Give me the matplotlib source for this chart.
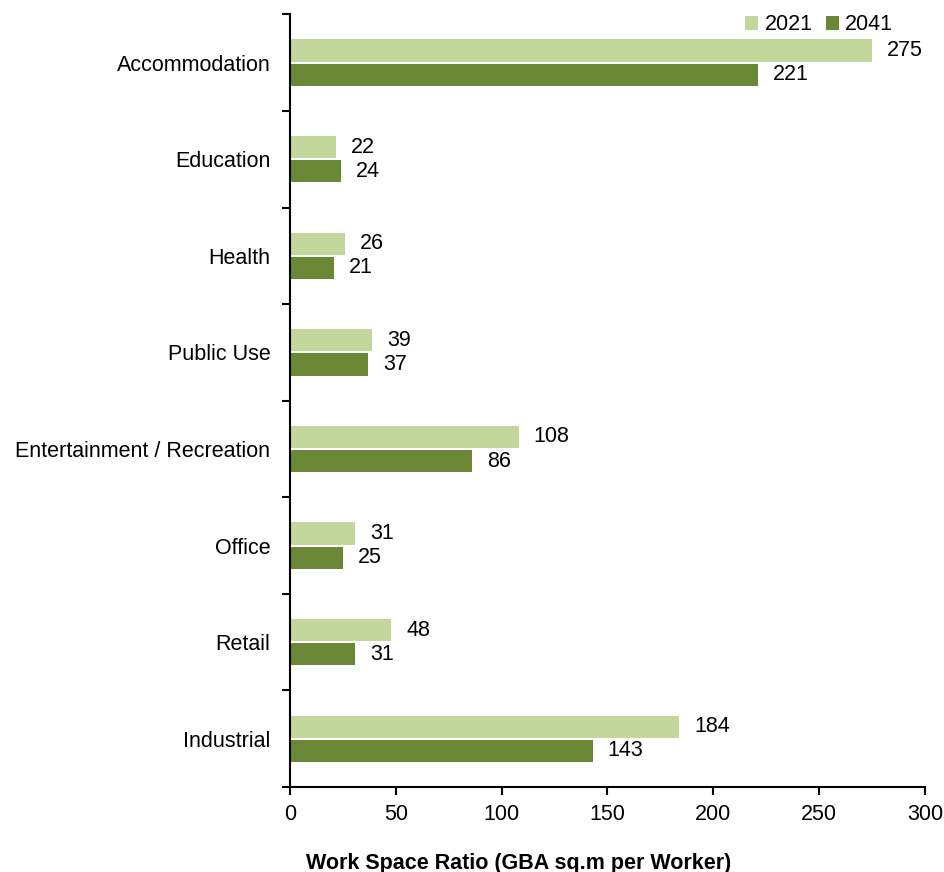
import numpy as np
import matplotlib.pyplot as plt

plt.rcParams['font.family'] = ['Liberation Sans', 'DejaVu Sans']

# Work space ratio by land use
categories = ["Accommodation", "Education", "Health", "Public Use",
              "Entertainment / Recreation", "Office", "Retail", "Industrial"]
ratio_2021 = [275, 22, 26, 39, 108, 31, 48, 184]
ratio_2041 = [221, 24, 21, 37, 86, 25, 31, 143]

LIGHT = "#C3D69B"
DARK = "#698734"
FS = 15.5

fig = plt.figure(figsize=(9.44, 8.72), dpi=100)
ax = fig.add_axes([0.307, 0.0975, 0.673, 0.886])

n = len(categories)
y = np.arange(n)
h = 0.23
gap = 0.02

b1 = ax.barh(y - (h + gap) / 2, ratio_2021, height=h, color=LIGHT, label="2021")
b2 = ax.barh(y + (h + gap) / 2, ratio_2041, height=h, color=DARK, label="2041")

for bars, vals in ((b1, ratio_2021), (b2, ratio_2041)):
    for bar, v in zip(bars, vals):
        ax.text(v + 7, bar.get_y() + bar.get_height() / 2, f"{v}",
                va="center", ha="left", fontsize=FS)

ax.set_ylim(n - 0.5, -0.5)
ax.set_xlim(0, 300)
ax.set_xticks(np.arange(0, 301, 50))

# boundary ticks between categories, labels on centre ticks
ax.set_yticks(np.arange(n + 1) - 0.5)
ax.set_yticklabels([])
ax.set_yticks(y, minor=True)
ax.set_yticklabels(categories, minor=True)
ax.tick_params(axis="y", which="major", length=6, width=1.5, direction="out")
ax.tick_params(axis="y", which="minor", length=0, pad=14, labelsize=FS)
ax.tick_params(axis="x", length=6, width=1.5, direction="out", labelsize=FS, pad=6)

for side in ("top", "right"):
    ax.spines[side].set_visible(False)
for side in ("left", "bottom"):
    ax.spines[side].set_linewidth(1.5)

ax.set_xlabel("Work Space Ratio (GBA sq.m per Worker)", fontsize=15.5,
              fontweight="bold", labelpad=22)
ax.xaxis.set_label_coords(0.36, -0.085)

ax.legend(loc="upper right", bbox_to_anchor=(0.98, 1.025), ncol=2, frameon=False,
          fontsize=FS, handlelength=0.6, handleheight=0.6, handletextpad=0.3,
          columnspacing=0.6)

fig.savefig("out.png", dpi=100)
